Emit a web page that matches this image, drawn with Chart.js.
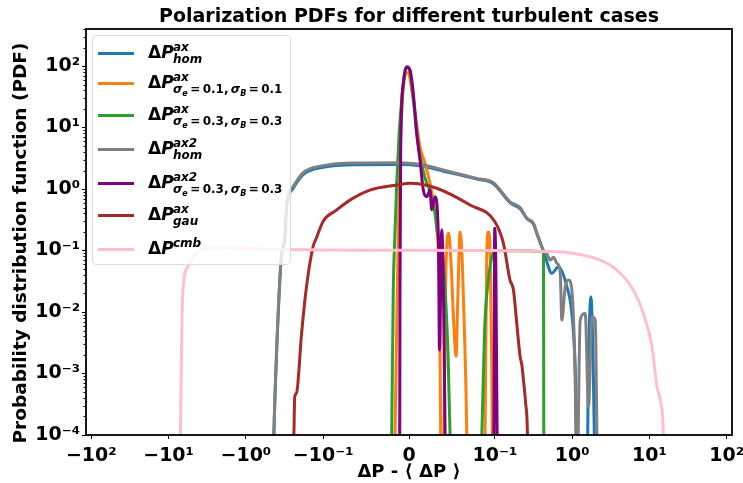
<!DOCTYPE html>
<html>
<head>
<meta charset="utf-8">
<script src="https://cdn.jsdelivr.net/npm/chart.js@4/dist/chart.umd.min.js"></script>
<style>
  body { margin: 0; background: #fff; }
  #wrap { position: relative; width: 743px; height: 483px; font-family: "DejaVu Sans", sans-serif; }
  #legend {
    position: absolute; left: 92px; top: 35px; width: 199px; height: 230px;
    border: 1px solid #dcdcdc; border-radius: 4px; background: rgba(255,255,255,0.8);
    box-sizing: border-box;
  }
  .ln { position: absolute; left: 5px; width: 36px; height: 3px; }
  .dp { position: absolute; left: 55px; font-size: 17px; line-height: 17px; font-weight: bold; white-space: nowrap; }
  .sp, .sb { position: absolute; left: 80px; font-size: 12px; line-height: 12px; font-weight: bold; font-style: italic; white-space: nowrap; }
  .tiny { font-size: 8px; vertical-align: -3px; }
  .up { font-style: normal; }
</style>
</head>
<body>
<div id="wrap">
  <canvas id="chart" width="743" height="483"></canvas>
  <div id="legend"></div>
</div>
<script>
/* TICKS */

const xTicks = [-100, -10, -1, -0.1, 0, 0.1, 1, 10, 100];
const xTickLabels = ["−10²", "−10¹", "−10⁰", "−10⁻¹", "0", "10⁻¹", "10⁰", "10¹", "10²"];
const yTicks = [1e-4, 1e-3, 1e-2, 1e-1, 1, 10, 100];
const yTickLabels = ["10⁻⁴", "10⁻³", "10⁻²", "10⁻¹", "10⁰", "10¹", "10²"];

/* SERIES (x = ΔP - <ΔP>, y = PDF) */

const homX = [-0.45, -0.434, -0.401, -0.345, -0.313, -0.297, -0.244, -0.181, -0.0999, -0.0609, -0.0105, 0.0128, 0.040, 0.079, 0.0983, 0.157, 0.212, 0.259, 0.316, 0.349, 0.40, 0.448, 0.546, 0.665, 0.855, 0.991, 1.094, 1.2, 1.55, 1.62, 1.75, 1.88, 1.99];
const homY = [1e-5, 1e-4, 2e-3, 0.085, 0.15, 0.5, 1.03, 1.72, 2.25, 2.48, 2.5, 2.38, 1.95, 1.45, 1.22, 0.6, 0.48, 0.33, 0.27, 0.19, 0.12, 0.079, 0.0426, 0.0546, 0.0258, 9.5e-3, 1.3e-3, 1e-5, 1e-5, 1e-3, 0.0177, 1e-3, 1e-5];

const s01X = [-0.0172, -0.0163, -0.0135, -0.011, -0.0075, -0.0035, -0.0015, 0.005, 0.0128, 0.0187, 0.0245, 0.0283, 0.0323, 0.0342, 0.0355, 0.0369, 0.0375, 0.040, 0.0408, 0.043, 0.0462, 0.049, 0.0525, 0.0548, 0.057, 0.0595, 0.062, 0.065, 0.0673, 0.068, 0.0875, 0.0886, 0.0905, 0.0924, 0.0945, 0.0965, 0.0975];
const s01Y = [1e-5, 1e-4, 0.03, 2, 30, 76, 78, 28, 4.87, 2.62, 1.24, 0.662, 0.25, 0.1, 0.03, 1e-4, 1e-5, 1e-5, 1e-4, 0.05, 0.19, 0.06, 5e-3, 1.9e-3, 0.02, 0.2, 0.07, 3e-3, 1e-4, 1e-5, 1e-5, 1e-4, 0.08, 0.2, 0.09, 1e-3, 1e-5];

const s03X = [-0.0215, -0.0202, -0.0183, -0.0163, -0.0143, -0.0115, -0.0085, -0.0047, -0.0027, 0.0012, 0.005, 0.009, 0.0128, 0.0187, 0.0245, 0.0303, 0.0342, 0.0365, 0.040, 0.0455, 0.0478, 0.049, 0.0835, 0.0848, 0.088, 0.092, 0.1, 0.117, 0.2, 0.3, 0.42, 0.426, 0.43];
const s03Y = [1e-5, 1e-4, 0.0228, 0.2, 1.24, 8, 28, 86, 95, 80, 30, 8, 3.5, 1.5, 0.9, 0.4, 0.158, 0.15, 0.06, 2e-3, 1e-4, 1e-5, 1e-5, 1e-4, 5e-3, 0.03, 0.0997, 0.0995, 0.099, 0.098, 0.0968, 0.0968, 1e-5];

const hom2X = [-0.45, -0.434, -0.401, -0.345, -0.313, -0.297, -0.244, -0.181, -0.0999, -0.0609, -0.0105, 0.0128, 0.040, 0.079, 0.0983, 0.157, 0.212, 0.259, 0.316, 0.349, 0.426, 0.471, 0.519, 0.573, 0.634, 0.700, 0.736, 0.813, 0.896, 0.991, 1.09, 1.15, 1.27, 1.475, 1.63, 1.80, 1.99, 2.13];
const hom2Y = [1e-5, 1e-4, 2.2e-3, 0.09, 0.16, 0.55, 1.1, 1.85, 2.4, 2.65, 2.68, 2.52, 2.04, 1.49, 1.27, 0.62, 0.5, 0.334, 0.277, 0.19, 0.1, 0.088, 0.070, 0.0775, 0.062, 0.0452, 0.0074, 0.0258, 0.0331, 0.0228, 1e-3, 1e-5, 7.4e-3, 9.5e-3, 2.9e-4, 8.4e-3, 7.4e-3, 1e-5];

const s03bX = [-0.0115, -0.0108, -0.0105, -0.0097, -0.0066, -0.0027, 0.0012, 0.005, 0.009, 0.0128, 0.0167, 0.0206, 0.0245, 0.0265, 0.0303, 0.0342, 0.0355, 0.0381, 0.042, 0.0425, 0.0985, 0.0992, 0.0998, 0.103, 0.107, 0.108];
const s03bY = [1e-5, 1e-4, 0.02, 4.3, 52, 97.5, 86, 36, 8.05, 2.96, 0.96, 0.75, 0.96, 0.46, 0.75, 0.17, 2.4e-3, 0.215, 1e-4, 1e-5, 1e-5, 1e-3, 0.23, 0.05, 1e-4, 1e-5];

const gauX = [-0.25, -0.239, -0.233, -0.221, -0.190, -0.164, -0.135, -0.122, -0.0999, -0.0843, -0.0688, -0.0455, -0.0143, 0.0012, 0.0323, 0.0711, 0.1001, 0.129, 0.157, 0.174, 0.192, 0.212, 0.223, 0.234, 0.250, 0.264, 0.27];
const gauY = [1e-5, 1e-4, 4.2e-4, 4.8e-4, 4.5e-3, 0.026, 0.115, 0.16, 0.3, 0.456, 0.66, 0.96, 1.16, 1.24, 1.03, 0.55, 0.294, 0.131, 0.033, 0.0228, 6.5e-3, 1.9e-3, 1.4e-3, 8e-4, 3.3e-4, 1e-4, 1e-5];

const cmbX = [-7.3, -7.02, -6.81, -6.55, -5.65, -4.36, -2.93, -1.78, -0.5, 0.1, 0.117, 0.2, 0.3, 0.43, 0.855, 2.31, 3.8, 6.18, 8.32, 10.8, 12.5, 13.8, 15.1, 15.6];
const cmbY = [1e-5, 1.1e-4, 2.15e-3, 0.0204, 0.054, 0.091, 0.11, 0.11, 0.105, 0.0997, 0.0995, 0.099, 0.098, 0.0968, 0.093, 0.070, 0.048, 0.0228, 0.0096, 2.73e-3, 6.1e-4, 3.7e-4, 1.1e-4, 1e-5];

const seriesX = [homX, s01X, s03X, hom2X, s03bX, gauX, cmbX];
const seriesY = [homY, s01Y, s03Y, hom2Y, s03bY, gauY, cmbY];
const colors = ["#1f77b4", "#ff7f0e", "#2ca02c", "#808080", "#800080", "#a52a2a", "#ffc0cb"];
const labelSup = ["ax", "ax", "ax", "ax2", "ax2", "ax", "cmb"];
const labelSub = [
  "hom",
  "σ<span class='tiny'>e</span><span class='up'>\u2009=\u20090.1,\u2009</span>σ<span class='tiny'>B</span><span class='up'>\u2009=\u20090.1</span>",
  "σ<span class='tiny'>e</span><span class='up'>\u2009=\u20090.3,\u2009</span>σ<span class='tiny'>B</span><span class='up'>\u2009=\u20090.3</span>",
  "hom",
  "σ<span class='tiny'>e</span><span class='up'>\u2009=\u20090.3,\u2009</span>σ<span class='tiny'>B</span><span class='up'>\u2009=\u20090.3</span>",
  "gau",
  ""
];

/* SYMLOG SCALE (linthresh 0.1, like matplotlib) */

const LINTHRESH = 0.1;
const LINSCALE = 1 / (1 - 1 / 10);

function symT(v) {
  const a = Math.abs(v);
  if (a <= LINTHRESH) return v * LINSCALE;
  return Math.sign(v) * LINTHRESH * (LINSCALE + Math.log10(a / LINTHRESH));
}

function symInv(t) {
  const a = Math.abs(t);
  if (a <= LINTHRESH * LINSCALE) return t / LINSCALE;
  return Math.sign(t) * LINTHRESH * Math.pow(10, a / LINTHRESH - LINSCALE);
}

class SymlogScale extends Chart.Scale {
  determineDataLimits() {
    this.min = this.options.min;
    this.max = this.options.max;
  }
  buildTicks() {
    return xTicks.map(v => ({ value: v }));
  }
  getLabelForValue(v) {
    return String(v);
  }
  getPixelForValue(v) {
    const t0 = symT(this.min), t1 = symT(this.max);
    return this.getPixelForDecimal((symT(v) - t0) / (t1 - t0));
  }
  getValueForPixel(p) {
    const t0 = symT(this.min), t1 = symT(this.max);
    return symInv(t0 + this.getDecimalForPixel(p) * (t1 - t0));
  }
}
SymlogScale.id = "symlog";
SymlogScale.defaults = {};
Chart.register(SymlogScale);

/* DATASETS */

const datasets = seriesX.map((xs, i) => ({
  data: xs.map((x, j) => ({ x: x, y: seriesY[i][j] })),
  borderColor: colors[i],
  backgroundColor: colors[i],
  borderWidth: 3,
  pointRadius: 0,
  fill: false,
  order: seriesX.length - i
}));

/* LEGEND (html, for the sub/superscripts) */

const centers = [52, 82, 114, 148, 182, 214, 248];
const legend = document.getElementById("legend");
colors.forEach((c, i) => {
  const cy = centers[i] - 35;
  legend.insertAdjacentHTML("beforeend",
    `<div class="ln" style="top:${cy - 1.5}px;background:${c}"></div>` +
    `<div class="dp" style="top:${cy - 9.5}px">Δ<i>P</i></div>` +
    `<div class="sp" style="top:${cy - 12}px">${labelSup[i]}</div>` +
    (labelSub[i] ? `<div class="sb" style="top:${cy}px">${labelSub[i]}</div>` : ""));
});

/* FRAME, MINOR TICKS, TITLES */

const framePlugin = {
  id: "frame",
  afterDraw(chart) {
    const { ctx, chartArea: a } = chart;
    ctx.save();
    ctx.strokeStyle = "#000";
    ctx.lineWidth = 1.8;
    ctx.strokeRect(a.left, a.top, a.right - a.left, a.bottom - a.top);

    const y = chart.scales.y;
    ctx.lineWidth = 1;
    for (let e = -4; e <= 2; e++) {
      for (let m = 2; m <= 9; m++) {
        const v = m * Math.pow(10, e);
        if (v > y.max) continue;
        const py = Math.round(y.getPixelForValue(v)) + 0.5;
        ctx.beginPath();
        ctx.moveTo(a.left - 2.5, py);
        ctx.lineTo(a.left, py);
        ctx.stroke();
      }
    }

    ctx.fillStyle = "#000";
    ctx.textAlign = "center";
    ctx.textBaseline = "middle";
    ctx.font = "bold 19px 'DejaVu Sans'";
    ctx.fillText("Polarization PDFs for different turbulent cases", (a.left + a.right) / 2, 17);

    ctx.font = "bold 18.5px 'DejaVu Sans'";
    ctx.translate(21, 243);
    ctx.rotate(-Math.PI / 2);
    ctx.fillText("Probability distribution function (PDF)", 0, 0);
    ctx.restore();
  }
};

/* CHART */

const tickFont = { family: "DejaVu Sans", size: 19, weight: "bold" };

new Chart(document.getElementById("chart"), {
  type: "line",
  data: { datasets: datasets },
  options: {
    responsive: false,
    animation: false,
    layout: { padding: { top: 29, right: 11, left: 0, bottom: 0 } },
    plugins: {
      legend: { display: false },
      title: { display: false },
      tooltip: { enabled: false }
    },
    elements: { line: { cubicInterpolationMode: "monotone" } },
    scales: {
      x: {
        type: "symlog",
        min: -117,
        max: 117,
        ticks: {
          callback: (v, i) => xTickLabels[i],
          font: tickFont,
          color: "#000",
          padding: 6,
          maxRotation: 0,
          autoSkip: false
        },
        grid: { drawOnChartArea: false, tickLength: 4, color: "#000" },
        border: { display: false },
        title: {
          display: true,
          text: "ΔP - ⟨ ΔP ⟩",
          color: "#000",
          font: { family: "DejaVu Sans", size: 18, weight: "bold" },
          padding: { top: 0, bottom: 0 }
        },
        afterFit(s) {
          s.height = 48;
          s.paddingLeft = 0;
          s.paddingRight = 0;
        }
      },
      y: {
        type: "logarithmic",
        min: 1e-4,
        max: 400,
        afterBuildTicks(s) {
          s.ticks = yTicks.map(v => ({ value: v }));
        },
        ticks: {
          callback: (v, i) => yTickLabels[i],
          font: tickFont,
          color: "#000",
          padding: 2,
          autoSkip: false
        },
        grid: { drawOnChartArea: false, tickLength: 4, color: "#000" },
        border: { display: false },
        afterFit(s) {
          s.width = 86;
          s.paddingTop = 0;
          s.paddingBottom = 0;
        }
      }
    }
  },
  plugins: [framePlugin]
});
</script>
</body>
</html>
